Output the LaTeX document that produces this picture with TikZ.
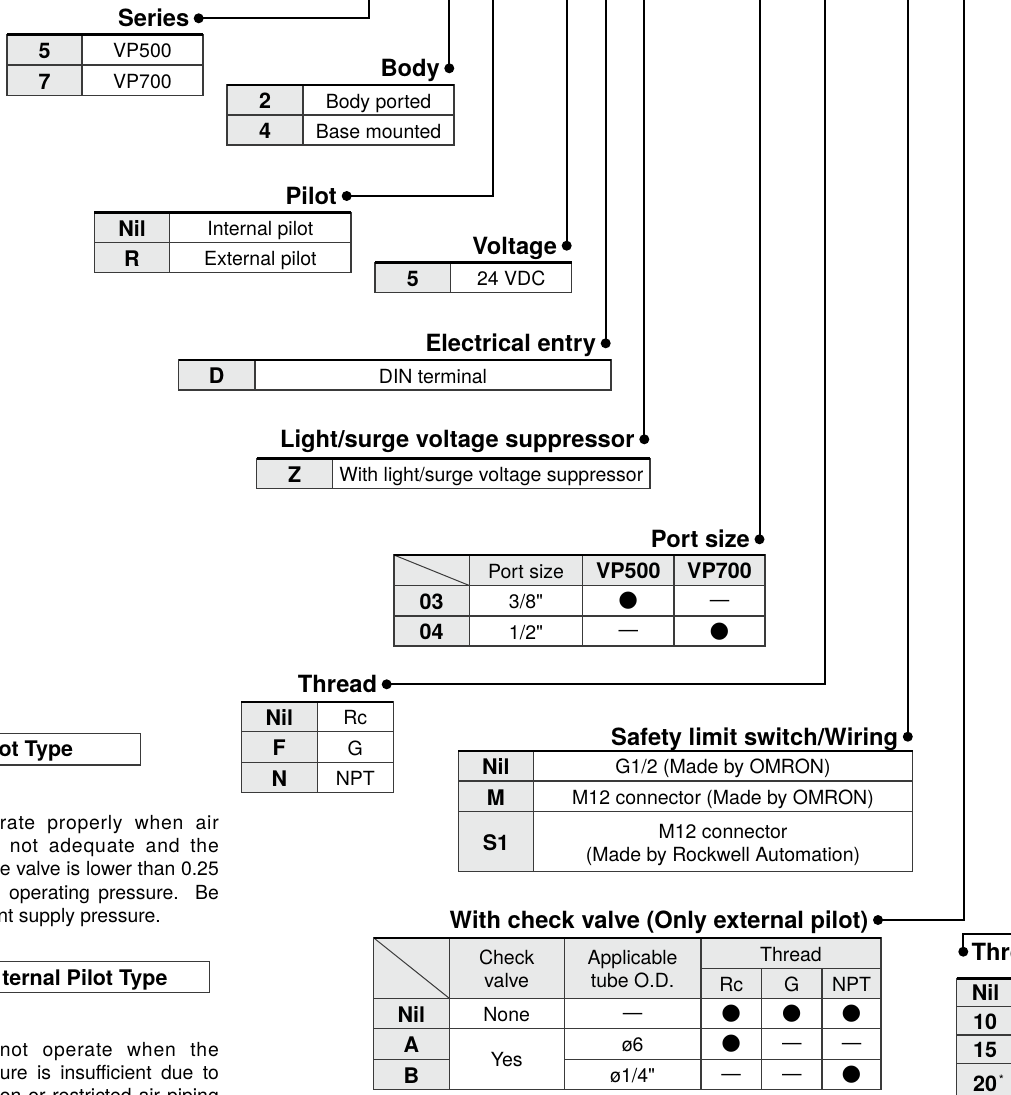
\documentclass[tikz,border=0pt]{standalone}
\usepackage{fontspec}
\setmainfont{TeX Gyre Heros}
\newfontfamily\dejavu{DejaVu Sans}
\definecolor{cellgray}{HTML}{E8E9E9}
\definecolor{rulec}{HTML}{3A3A3A}
\newcommand{\qd}{\textquotedbl}
\tikzset{
 hd/.style={font=\fontsize{23.7}{28}\selectfont\bfseries, inner sep=0pt, text height=17pt, text depth=0pt, anchor=east},
 hdw/.style={hd, anchor=west},
 bxh/.style={font=\fontsize{21.5}{26}\selectfont\bfseries, inner sep=0pt, anchor=base east},
 tx/.style={font=\fontsize{19.5}{23.4}\selectfont, inner sep=0pt, text height=14pt, text depth=0pt},
 txb/.style={font=\fontsize{21.5}{25}\selectfont\bfseries, inner sep=0pt, text height=15.4pt, text depth=0pt},
 mk/.style={font=\dejavu\fontsize{22.5}{22.5}\selectfont, inner sep=0pt},
 dsh/.style={font=\fontsize{19.5}{23.4}\selectfont, inner sep=0pt, yshift=-2.5pt},
 conn/.style={line width=2pt, black},
 dotn/.style={circle, fill=black, inner sep=0pt, minimum size=10pt},
 grid/.style={line width=1.3pt, draw=rulec},
 topr/.style={line width=2.4pt, draw=black},
 para/.style={font=\fontsize{19.4}{23.4}\selectfont, inner sep=0pt, anchor=base east},
 spaced/.style={font=\fontsize{19.4}{23.4}\selectfont\addfontfeature{LetterSpace=4}},
}
\begin{document}
\begin{tikzpicture}[x=1pt,y=-1pt]
\useasboundingbox (0,0) rectangle (1011,1095);
\clip (0,0) rectangle (1011,1095);
\fill[white] (0,0) rectangle (1011,1095);

% ---------------- Series
\fill[cellgray] (7,34.3) rectangle (82,95.7);
\draw[grid] (7,34.3) rectangle (203,95.7) (82,34.3) -- (82,95.7) (7,65) -- (203,65);
\draw[topr] (7,34.3) -- (203,34.3);
\node[dotn] (dSer) at (198.7,18.3) {};
\node[hd] (hSer) at (189.5,18.3) {Series};
\node[txb] (ser5) at (44.5,50.6) {5};
\node[tx] (ser5t) at (142.5,50.6) {VP500};
\node[txb] (ser7) at (44.5,81.3) {7};
\node[tx] (ser7t) at (142.5,81.3) {VP700};
\coordinate (topSer) at (369,-3);
\draw[conn] (dSer.center) -| (topSer);

% ---------------- Body
\fill[cellgray] (227,85) rectangle (303,145);
\draw[grid] (227,85) rectangle (454,145) (303,85) -- (303,145) (227,115) -- (454,115);
\draw[topr] (227,85) -- (454,85);
\node[dotn] (dBody) at (449.3,68.3) {};
\node[hd] (hBody) at (440,68.3) {Body};
\node[txb] (body2) at (265,101) {2};
\node[tx] (body2t) at (378.5,101) {Body ported};
\node[txb] (body4) at (265,131) {4};
\node[tx] (body4t) at (378.5,131) {Base mounted};
\coordinate (topBody) at (449.3,-3);
\draw[conn] (dBody.center) -- (topBody);

% ---------------- Pilot
\fill[cellgray] (94.3,212.3) rectangle (169.7,272.7);
\draw[grid] (94.3,212.3) rectangle (351,272.7) (169.7,212.3) -- (169.7,272.7) (94.3,242.7) -- (351,242.7);
\draw[topr] (94.3,212.3) -- (351,212.3);
\node[dotn] (dPil) at (346.7,196) {};
\node[hd] (hPil) at (337,196) {Pilot};
\node[txb] (pilN) at (132,228.5) {Nil};
\node[tx] (pilNt) at (260.3,228.5) {Internal pilot};
\node[txb] (pilR) at (132,258.7) {R};
\node[tx] (pilRt) at (260.3,258.7) {External pilot};
\coordinate (topPil) at (493.3,-3);
\draw[conn] (dPil.center) -| (topPil);

% ---------------- Voltage
\fill[cellgray] (375,262.3) rectangle (450.7,292.7);
\draw[grid] (375,262.3) rectangle (571.7,292.7) (450.7,262.3) -- (450.7,292.7);
\draw[topr] (375,262.3) -- (571.7,262.3);
\node[dotn] (dVol) at (566.7,245.7) {};
\node[hd] (hVol) at (557.3,245.7) {Voltage};
\node[txb] (vol5) at (412.8,278.5) {5};
\node[tx] (vol5t) at (511.2,278.5) {24 VDC};
\coordinate (topVol) at (566.7,-3);
\draw[conn] (dVol.center) -- (topVol);

% ---------------- Electrical entry
\fill[cellgray] (178.5,360) rectangle (255,390);
\draw[grid] (178.5,360) rectangle (611,390) (255,360) -- (255,390);
\draw[topr] (178.5,360) -- (611,360);
\node[dotn] (dEle) at (605.7,343.3) {};
\node[hd] (hEle) at (596.3,343.3) {Electrical entry};
\node[txb] (eleD) at (216.7,376) {D};
\node[tx] (eleDt) at (433,376) {DIN terminal};
\coordinate (topEle) at (605.7,-3);
\draw[conn] (dEle.center) -- (topEle);

% ---------------- Light/surge voltage suppressor
\fill[cellgray] (256.8,458.3) rectangle (332.7,488.3);
\draw[grid] (256.8,458.3) rectangle (650,488.3) (332.7,458.3) -- (332.7,488.3);
\draw[topr] (256.8,458.3) -- (650,458.3);
\node[dotn] (dLig) at (644.3,439.3) {};
\node[hd] (hLig) at (634.8,439.3) {Light/surge voltage suppressor};
\node[txb] (ligZ) at (294.7,474.3) {Z};
\node[tx] (ligZt) at (491.3,474.3) {With light/surge voltage suppressor};
\coordinate (topLig) at (644.3,-3);
\draw[conn] (dLig.center) -- (topLig);

% ---------------- Port size
\fill[cellgray] (394,555) rectangle (765,585.5);
\fill[cellgray] (394,555) rectangle (469.3,646);
\draw[grid] (394,555) rectangle (765,646)
  (469.3,555) -- (469.3,646) (582.7,555) -- (582.7,646) (674,555) -- (674,646)
  (394,585.5) -- (765,585.5) (394,616) -- (765,616);
\draw[line width=1pt, rulec] (394,555) -- (469.3,585.5);
\draw[topr] (394,555) -- (765,555);
\node[dotn] (dPor) at (759.5,539.3) {};
\node[hd] (hPor) at (750,539.3) {Port size};
\node[tx] (porH1) at (526,571.2) {Port size};
\node[txb] (porH2) at (628.3,571.2) {VP500};
\node[txb] (porH3) at (719.5,571.2) {VP700};
\node[txb] (por03) at (431.6,601.7) {03};
\node[tx] (por03a) at (526,601.7) {3/8\qd};
\node[mk] (por03b) at (628.3,601) {●};
\node[dsh] (por03c) at (719.5,601) {—};
\node[txb] (por04) at (431.6,632) {04};
\node[tx] (por04a) at (526,632) {1/2\qd};
\node[dsh] (por04b) at (628.3,631.3) {—};
\node[mk] (por04c) at (719.5,631.3) {●};
\coordinate (topPor) at (759.5,-3);
\draw[conn] (dPor.center) -- (topPor);

% ---------------- Thread
\fill[cellgray] (241.3,701.7) rectangle (317.3,792.3);
\draw[grid] (241.3,701.7) rectangle (393.3,792.3) (317.3,701.7) -- (317.3,792.3)
  (241.3,731.7) -- (393.3,731.7) (241.3,762.3) -- (393.3,762.3);
\draw[topr] (241.3,701.7) -- (393.3,701.7);
\node[dotn] (dThd) at (386.7,684.3) {};
\node[hd] (hThd) at (377.3,684.3) {Thread};
\node[txb] (thdN) at (279.3,717.7) {Nil};
\node[tx] (thdNt) at (355.3,717.7) {Rc};
\node[txb] (thdF) at (279.3,748) {F};
\node[tx] (thdFt) at (355.3,748) {G};
\node[txb] (thdNp) at (279.3,778.3) {N};
\node[tx] (thdNpt) at (355.3,778.3) {NPT};
\coordinate (topThd) at (825,-3);
\draw[conn] (dThd.center) -| (topThd);

% ---------------- Safety limit switch/Wiring
\fill[cellgray] (458.3,750.7) rectangle (533.5,871.7);
\draw[grid] (458.3,750.7) rectangle (912.5,871.7) (533.5,750.7) -- (533.5,871.7)
  (458.3,781) -- (912.5,781) (458.3,811.7) -- (912.5,811.7);
\draw[topr] (458.3,750.7) -- (912.5,750.7);
\node[dotn] (dSaf) at (907.8,736.7) {};
\node[hd] (hSaf) at (898.3,736.7) {Safety limit switch/Wiring};
\node[txb] (safN) at (495.9,766.9) {Nil};
\node[tx] (safNt) at (723,766.9) {G1/2 (Made by OMRON)};
\node[txb] (safM) at (495.9,797.4) {M};
\node[tx] (safMt) at (723,797.4) {M12 connector (Made by OMRON)};
\node[txb] (safS) at (495.9,842.7) {S1};
\node[tx] (safSt1) at (723,831) {M12 connector};
\node[tx] (safSt2) at (723,854.3) {(Made by Rockwell Automation)};
\coordinate (topSaf) at (907.8,-3);
\draw[conn] (dSaf.center) -- (topSaf);

% ---------------- With check valve
\fill[cellgray] (373.5,937.7) rectangle (881,998.3);
\fill[cellgray] (373.5,937.7) rectangle (449.3,1089.3);
\draw[grid] (373.5,937.7) rectangle (881,1089.3)
  (449.3,937.7) -- (449.3,1089.3) (564.2,937.7) -- (564.2,1089.3) (701,937.7) -- (701,1089.3)
  (761.5,968.3) -- (761.5,1089.3) (822.1,968.3) -- (822.1,1089.3)
  (701,968.3) -- (881,968.3) (373.5,998.3) -- (881,998.3) (373.5,1028.3) -- (881,1028.3)
  (373.5,1059.3) -- (449.3,1059.3) (564.2,1059.3) -- (881,1059.3);
\draw[line width=1pt, rulec] (373.5,937.7) -- (449.3,998.3);
\draw[topr] (373.5,937.7) -- (881,937.7);
\node[dotn] (dChk) at (878,920) {};
\node[hd] (hChk) at (868.5,920) {With check valve (Only external pilot)};
\node[tx] (chkH1a) at (506.7,957) {Check};
\node[tx] (chkH1b) at (506.7,980.3) {valve};
\node[tx] (chkH2a) at (632.6,957) {Applicable};
\node[tx] (chkH2b) at (632.6,980.3) {tube O.D.};
\node[tx] (chkH3) at (791,954) {Thread};
\node[tx] (chkRc) at (731.2,984.3) {Rc};
\node[tx] (chkG) at (791.8,984.3) {G};
\node[tx] (chkNPT) at (851.5,984.3) {NPT};
\node[txb] (chkNil) at (411.4,1014.3) {Nil};
\node[tx] (chkNone) at (506.7,1014.3) {None};
\node[dsh] (chkN3) at (632.6,1013.5) {—};
\node[mk] (chkN4) at (731.2,1013.5) {●};
\node[mk] (chkN5) at (791.8,1013.5) {●};
\node[mk] (chkN6) at (851.5,1013.5) {●};
\node[txb] (chkA) at (411.4,1044.8) {A};
\node[tx] (chkYes) at (506.7,1059.8) {Yes};
\node[tx] (chkA3) at (632.6,1044.8) {ø6};
\node[mk] (chkA4) at (731.2,1044) {●};
\node[dsh] (chkA5) at (791.8,1044) {—};
\node[dsh] (chkA6) at (851.5,1044) {—};
\node[txb] (chkB) at (411.4,1075.3) {B};
\node[tx] (chkB3) at (632.6,1075.3) {ø1/4\qd};
\node[dsh] (chkB4) at (731.2,1074.5) {—};
\node[dsh] (chkB5) at (791.8,1074.5) {—};
\node[mk] (chkB6) at (851.5,1074.5) {●};
\coordinate (topChk) at (964,-3);
\draw[conn] (dChk.center) -| (topChk);

% ---------------- Thread (right, cut)
\fill[cellgray] (956.7,978.3) rectangle (1040,1120);
\draw[grid] (956.7,978.3) -- (956.7,1120)
  (956.7,1006.5) -- (1040,1006.5) (956.7,1035) -- (1040,1035) (956.7,1063.5) -- (1040,1063.5);
\draw[topr] (956.7,978.3) -- (1040,978.3);
\node[dotn] (dThr) at (963.3,951.7) {};
\node[hdw] (hThr) at (971.5,951.7) {Thread};
\node[txb, anchor=west] (thrNil) at (971.7,993) {Nil};
\node[txb, anchor=west] (thr10) at (973,1021.7) {10};
\node[txb, anchor=west] (thr15) at (973,1050.2) {15};
\node[txb, anchor=west] (thr20) at (973,1084) {20};
\node[font=\fontsize{13}{13}\selectfont, inner sep=0pt] (thr20s) at (1001.5,1080) {*};
\coordinate (edgeThr) at (1016,934);
\draw[conn] (dThr.center) |- (edgeThr);

% ---------------- Left notes (cut)
\draw[line width=1.2pt, rulec] (-5,733.3) rectangle (140.7,765);
\node[bxh] (box1) at (73.3,756.7) {ot Type};
\node[para, spaced] (p1a) at (219,829) {\makebox[219pt][s]{rate properly when air}};
\node[para, spaced] (p1b) at (219,852.3) {\makebox[209pt][s]{not adequate and the}};
\node[para] (p1c) at (219,875.7) {\makebox[219pt][s]{e valve is lower than 0.25}};
\node[para] (p1d) at (219,899) {\makebox[209.7pt][s]{operating pressure. Be}};
\node[para] (p1e) at (161,922.4) {nt supply pressure.};
\draw[line width=1.2pt, rulec] (-5,961.7) rectangle (209.3,992.7);
\node[bxh] (box2) at (167.7,985) {ternal Pilot Type};
\node[para, spaced] (p2a) at (219,1056) {\makebox[219pt][s]{not operate when the}};
\node[para] (p2b) at (219,1079.4) {\makebox[219pt][s]{ure is insufficient due to}};
\node[para] (p2c) at (219,1102.8) {\makebox[219pt][s]{on or restricted air piping}};
\end{tikzpicture}
\end{document}
